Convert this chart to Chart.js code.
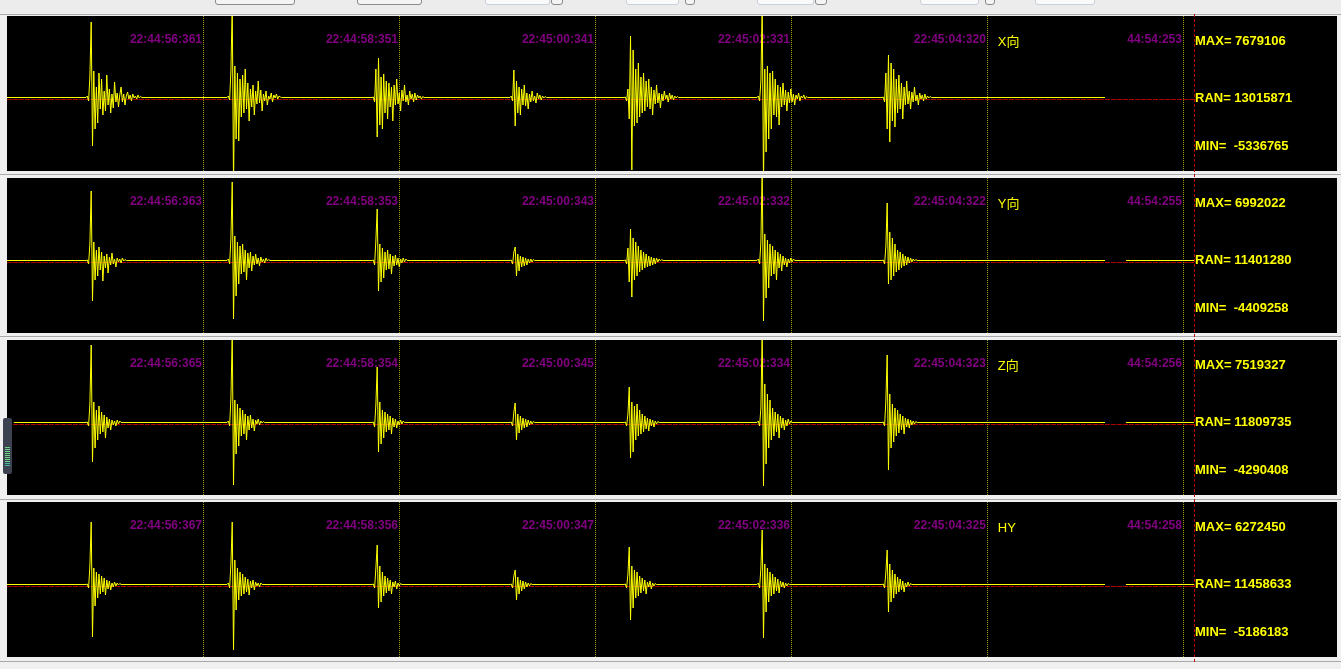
<!DOCTYPE html>
<html>
<head>
<meta charset="utf-8">
<script src="https://cdn.jsdelivr.net/npm/chart.js@4"></script>
<style>
  body { margin: 0; background: #f0f0f0; width: 1341px; height: 669px; overflow: hidden; position: relative; }
  .bar { position: absolute; left: 0; width: 1341px; height: 13px; top: 0; background: #ececec; }
  .btn { position: absolute; top: -6px; height: 9px; border: 1px solid #8a8a8a; border-radius: 3px; background: #f4f4f4; }
  .btn.light { border-color: #c8d0dc; background: #fafafa; }
  .sep { position: absolute; left: 0; width: 1341px; height: 1px; background: #a9a9a9; }
  canvas { position: absolute; left: 7px; background: #000; }
  .marker { position: absolute; left: 1194px; top: 14px; height: 648px; border-left: 1px dashed #c00000; }
  .knob { position: absolute; left: 3px; top: 418px; width: 9px; height: 56px; background: #3c4250; border-radius: 2px; }
  .knob i { position: absolute; left: 2px; width: 5px; height: 1px; background: #6fd08a; }
</style>
</head>
<body>
<div class="bar"></div>
<div class="btn" style="left:215px;width:78px"></div>
<div class="btn" style="left:357px;width:63px"></div>
<div class="btn light" style="left:485px;width:63px"></div>
<div class="btn" style="left:551px;width:10px"></div>
<div class="btn light" style="left:626px;width:51px"></div>
<div class="btn" style="left:685px;width:8px"></div>
<div class="btn light" style="left:757px;width:55px"></div>
<div class="btn" style="left:815px;width:10px"></div>
<div class="btn light" style="left:920px;width:57px"></div>
<div class="btn" style="left:985px;width:8px"></div>
<div class="btn light" style="left:1035px;width:58px"></div>
<div class="sep" style="top:14px"></div>
<div class="sep" style="top:174px"></div>
<div class="sep" style="top:336px"></div>
<div class="sep" style="top:499px"></div>
<div class="sep" style="top:661px"></div>

<canvas id="pX" width="1330" height="155" style="top:16px"></canvas>
<canvas id="pY" width="1330" height="155" style="top:178px"></canvas>
<canvas id="pZ" width="1330" height="155" style="top:340px"></canvas>
<canvas id="pH" width="1330" height="155" style="top:502px"></canvas>
<div class="marker"></div>
<div class="knob">
  <i style="top:29px"></i><i style="top:31px"></i><i style="top:33px"></i><i style="top:35px"></i>
  <i style="top:37px"></i><i style="top:39px"></i><i style="top:41px"></i><i style="top:43px"></i>
  <i style="top:45px;background:#48b8a8"></i><i style="top:47px;background:#48b8a8"></i>
</div>

<script>
// time axis in seconds after 22:44:50
const viewStart = 54.371;
const viewEnd = 67.875;
const markTimes = [56.361, 58.351, 60.341, 62.331, 64.320, 66.311];
const cursorTime = 66.423;
const sampleDt = 0.0132;
const burstStart = [55.173, 56.605, 58.077, 59.478, 60.636, 61.986, 63.255];
const signalStart = [54.371, 54.371, 54.44, 54.371];
const gapStart = 65.519;
const gapEnd = 65.732;
const tailShown = [false, true, true, true];
const baseLevel = 1.5;

// amplitudes in units of 1e5 counts
const xBursts = [
  [1.5, 3, -2, 22, 77, -47, 28, -30, 12, -24, 26, -10, 20, -16, 8, -12, 24, -6, 10, -14, 5, -9, 17, -3, 6, -8, 4, 12, -3, 5, -6, 3, 7, 0, 4, -2, 5, 1, 3, 0, 4, 1, 2.5, 1.5],
  [1.5, 3, -1, 28, 95, -85, 33, -40, 26, -42, 20, -18, 24, -14, 30, -10, 16, -22, 10, -8, 14, -16, 8, -5, 18, -4, 9, -12, 5, -2, 8, -6, 3, 0, 6, -3, 4, 1, 5, 0, 3, 2, 1.5],
  [1.5, 2, -3, 30, -38, 41, -26, 22, -30, 25, -14, 18, -20, 16, -8, 12, -22, 14, -6, 20, -5, 6, -12, 9, -2, 14, -3, 4, -6, 8, 0, 5, -3, 6, -1, 4, 1, 3, 0, 2.5, 1.5],
  [1.5, 3, -2, 29, -27, 18, -14, 12, -16, 10, -6, 14, -7, 6, -10, 5, -3, 8, -2, 3, -4, 6, 0, 4, -1, 3, 1, 2.5, 1.5],
  [1.5, 2, -2, 10, -20, 63, -71, 49, -27, 30, -24, 36, -18, 22, -14, 26, -12, 18, -8, 20, -10, 12, -16, 9, -5, 14, -4, 6, -9, 5, -2, 8, 0, 4, -3, 6, 0, 4, -1, 3, 1, 2.5, 1.5],
  [1.5, 3, -2, 18, 95, -85, 30, -53, 33, -40, 26, -30, 28, -16, 20, -18, 14, -26, 12, -8, 16, -6, 9, -12, 7, -4, 10, -3, 5, -6, 4, 0, 6, -2, 3, 1, 4, 0, 2.5, 1.5],
  [1.5, 2, -3, 26, -30, 44, -43, 36, -22, 30, -28, 20, -14, 24, -10, 16, -20, 12, -6, 18, -5, 8, -10, 7, -3, 12, -2, 4, -6, 6, 0, 4, -2, 5, 0, 3, 1, 2.5, 1.5]
];
const yBursts = [
  [1.5, 2, -2, 18, 71, -39, 20, -18, 12, -14, 15, -8, 10, -19, 6, -6, 8, -11, 5, -3, 9, -2, 3, -5, 4, 0, 3, -1, 4, 1, 2.5, 1.5],
  [1.5, 3, -2, 24, 80, -57, 26, -34, 20, -22, 16, -12, 18, -10, 12, -18, 9, -6, 10, -9, 6, -3, 8, -2, 4, -4, 5, 0, 3, -1, 4, 1, 2.5, 1.5],
  [1.5, 2, -3, 22, 53, -29, 18, -20, 14, -16, 10, -8, 12, -7, 8, -12, 6, -4, 7, -3, 4, -5, 3, -1, 4, 0, 3, 1.5],
  [1.5, 2, -2, 10, 15, -14, 8, -9, 6, -5, 5, -4, 4, -3, 3, -1, 3, 0, 2.5, 1.5],
  [1.5, 2, -2, 14, -20, 33, -35, 24, -18, 20, -14, 16, -10, 12, -8, 10, -6, 8, -5, 6, -4, 5, -3, 4, -2, 4, 0, 3, 1, 2.5, 1.5],
  [1.5, 3, -2, 20, 95, -59, 28, -36, 22, -26, 18, -14, 16, -12, 12, -18, 10, -6, 8, -9, 6, -3, 4, -5, 3, -1, 4, 0, 3, 1.5],
  [1.5, 2, -2, 16, 59, -22, 30, -18, 24, -14, 18, -10, 12, -8, 10, -6, 8, -4, 6, -3, 5, -1, 4, 0, 3, 1, 2.5, 1.5]
];
const zBursts = [
  [1.5, 2, -2, 20, 79, -38, 22, -24, 14, -16, 18, -10, 12, -8, 9, -14, 7, -4, 5, -6, 4, -1, 3, -2, 4, 0, 3, 1.5],
  [1.5, 3, -2, 26, 90, -61, 24, -30, 20, -22, 16, -12, 14, -10, 10, -16, 8, -6, 9, -4, 5, -7, 4, 0, 5, -1, 3, 1, 2.5, 1.5],
  [1.5, 2, -3, 20, 57, -28, 22, -20, 14, -14, 12, -8, 10, -6, 8, -10, 6, -3, 5, -4, 3, -1, 4, 0, 3, 1.5],
  [1.5, 2, -2, 12, 21, -16, 10, -9, 8, -6, 6, -4, 5, -3, 4, -1, 3, 0, 2.5, 1.5],
  [1.5, 2, -2, 10, 37, -34, 22, -28, 18, -16, 20, -12, 14, -10, 10, -8, 8, -5, 6, -7, 5, -2, 4, -3, 3, 0, 2.5, 1.5],
  [1.5, 3, -2, 16, 95, -62, 40, -40, 30, -24, 24, -16, 16, -12, 12, -8, 10, -14, 8, -4, 6, -6, 4, -2, 5, 0, 3, 1.5],
  [1.5, 2, -2, 24, 69, -46, 30, -24, 20, -18, 16, -12, 14, -9, 10, -6, 8, -10, 6, -3, 5, -4, 4, -1, 3, 0, 2.5, 1.5]
];
const hBursts = [
  [1.5, 2, -2, 20, 64, -51, 18, -20, 14, -12, 12, -8, 10, -6, 8, -9, 6, -3, 5, -4, 3, -1, 4, 0, 3, 1, 2.5, 1.5],
  [1.5, 3, -2, 22, 64, -64, 26, -24, 18, -14, 14, -10, 12, -8, 9, -6, 7, -9, 5, -2, 6, -4, 4, 0, 3, -1, 3, 1.5],
  [1.5, 2, -2, 18, 41, -22, 20, -16, 14, -10, 10, -7, 8, -5, 6, -8, 4, -1, 5, -3, 3, 0, 2.5, 1.5],
  [1.5, 2, -2, 10, 16, -14, 9, -8, 6, -5, 5, -3, 4, -1, 3, 0, 2.5, 1.5],
  [1.5, 2, -2, 12, 39, -34, 20, -22, 16, -12, 14, -10, 10, -7, 8, -5, 6, -8, 4, -1, 5, -3, 3, 0, 2.5, 1.5],
  [1.5, 3, -2, 18, 56, -52, 22, -26, 18, -16, 14, -10, 12, -8, 9, -5, 7, -7, 5, -1, 4, -2, 3, 0, 2.5, 1.5],
  [1.5, 2, -2, 14, 36, -26, 22, -16, 16, -12, 12, -8, 9, -6, 7, -4, 5, -6, 3, -1, 4, 0, 2.5, 1.5]
];

const channelNames = ['X向', 'Y向', 'Z向', 'HY'];
const stampLabels = [
  ['22:44:56:361', '22:44:58:351', '22:45:00:341', '22:45:02:331', '22:45:04:320', '44:54:253'],
  ['22:44:56:363', '22:44:58:353', '22:45:00:343', '22:45:02:332', '22:45:04:322', '44:54:255'],
  ['22:44:56:365', '22:44:58:354', '22:45:00:345', '22:45:02:334', '22:45:04:323', '44:54:256'],
  ['22:44:56:367', '22:44:58:356', '22:45:00:347', '22:45:02:336', '22:45:04:325', '44:54:258']
];
const maxVals = [7679106, 6992022, 7519327, 6272450];
const ranVals = [13015871, 11401280, 11809735, 11458633];
const minVals = [-5336765, -4409258, -4290408, -5186183];
const yTop = [83, 84, 84, 84];

function buildWave(bursts, start, tail) {
  const pts = [{ x: start, y: baseLevel }];
  bursts.forEach((amps, i) => {
    amps.forEach((v, j) => pts.push({ x: burstStart[i] + j * sampleDt, y: v }));
  });
  pts.push({ x: gapStart, y: baseLevel });
  pts.push({ x: (gapStart + gapEnd) / 2, y: null });
  if (tail) {
    pts.push({ x: gapEnd, y: baseLevel });
    pts.push({ x: cursorTime, y: baseLevel });
  }
  return pts;
}

const seisPlugin = {
  id: 'seis',
  beforeDatasetsDraw(chart) {
    const { ctx, chartArea: a, scales: { x, y } } = chart;
    const k = chart.options.plugins.seis.idx;
    ctx.save();
    ctx.lineWidth = 1;
    // zero line
    ctx.strokeStyle = '#b00000';
    ctx.setLineDash([5, 1]);
    const y0 = Math.round(y.getPixelForValue(0)) + 0.5;
    ctx.beginPath(); ctx.moveTo(a.left, y0); ctx.lineTo(x.getPixelForValue(cursorTime), y0); ctx.stroke();
    // time marks
    ctx.strokeStyle = '#9a9a00';
    ctx.setLineDash([1, 1]);
    markTimes.forEach(t => {
      const px = Math.round(x.getPixelForValue(t)) + 0.5;
      ctx.beginPath(); ctx.moveTo(px, a.top); ctx.lineTo(px, a.bottom); ctx.stroke();
    });
    ctx.setLineDash([]);
    // timestamps
    ctx.fillStyle = '#800080';
    ctx.font = 'bold 12px "Liberation Sans", Arial';
    ctx.textAlign = 'right';
    ctx.textBaseline = 'middle';
    markTimes.forEach((t, i) => {
      ctx.fillText(stampLabels[k][i], x.getPixelForValue(t) - 1, a.top + 24);
    });
    ctx.restore();
  },
  afterDatasetsDraw(chart) {
    const { ctx, chartArea: a, scales: { x } } = chart;
    const k = chart.options.plugins.seis.idx;
    ctx.save();
    ctx.fillStyle = '#ffff00';
    ctx.textBaseline = 'middle';
    ctx.font = '13px "Liberation Sans", "Noto Sans CJK SC"';
    ctx.fillText(channelNames[k], x.getPixelForValue(markTimes[4]) + 11, a.top + 26);
    ctx.font = 'bold 13px "Liberation Sans", Arial';
    const tx = x.getPixelForValue(cursorTime) + 1;
    ctx.fillText('MAX= ' + maxVals[k], tx, a.top + 25);
    ctx.fillText('RAN= ' + ranVals[k], tx, a.top + 82);
    ctx.fillText('MIN=  ' + minVals[k], tx, a.top + 130);
    ctx.restore();
  }
};

const allBursts = [xBursts, yBursts, zBursts, hBursts];
['pX', 'pY', 'pZ', 'pH'].forEach((id, k) => {
  new Chart(document.getElementById(id).getContext('2d'), {
    type: 'line',
    data: {
      datasets: [{
        data: buildWave(allBursts[k], signalStart[k], tailShown[k]),
        borderColor: '#ffff00',
        borderWidth: 1,
        pointRadius: 0,
        tension: 0,
        spanGaps: false
      }]
    },
    options: {
      responsive: false,
      animation: false,
      events: [],
      layout: { padding: 0 },
      plugins: { legend: { display: false }, tooltip: { enabled: false }, seis: { idx: k } },
      scales: {
        x: { type: 'linear', display: false, min: viewStart, max: viewEnd },
        y: { display: false, min: yTop[k] - 155, max: yTop[k] }
      }
    },
    plugins: [seisPlugin]
  });
});
</script>
</body>
</html>
